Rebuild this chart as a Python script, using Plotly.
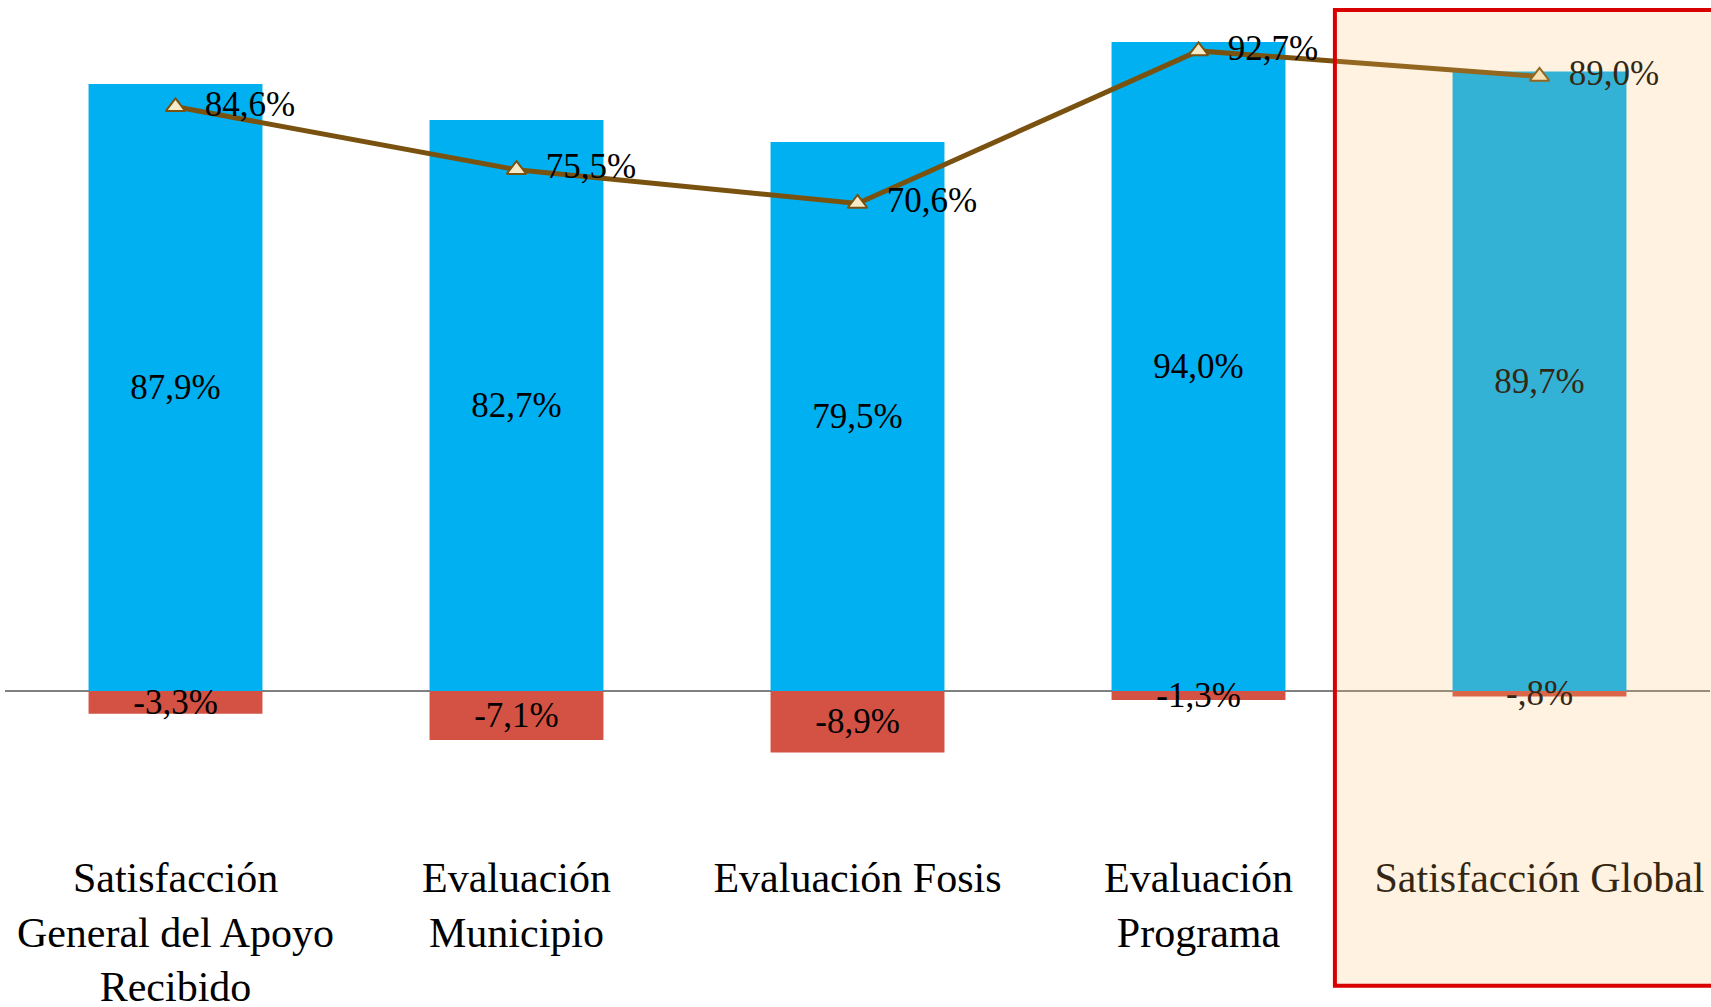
import plotly.graph_objects as go

BLUE  = "#00B0F0"
RED   = "#D35244"
BROWN = "#7A5210"
FONT  = "Liberation Serif, Times New Roman, serif"

categorias = [
    "Satisfacción<br>General del Apoyo<br>Recibido",
    "Evaluación<br>Municipio",
    "Evaluación Fosis",
    "Evaluación<br>Programa",
    "Satisfacción Global",
]
positivo = [87.9, 82.7, 79.5, 94.0, 89.7]
negativo = [-3.3, -7.1, -8.9, -1.3, -0.8]
neto = [84.6, 75.5, 70.6, 92.7, 89.0]


def pct(v):
    s = f"{v:.1f}".replace(".", ",")
    s = s.replace("-0,", "-,")
    if s.startswith("0,"):
        s = s[1:]
    return s + "%"


fig = go.Figure()
fig.add_trace(go.Bar(
    x=categorias, y=positivo, marker=dict(color=BLUE, line=dict(width=0)),
    text=[pct(v) for v in positivo], textposition="inside", insidetextanchor="middle",
    textangle=0, constraintext="none",
    textfont=dict(family=FONT, size=35, color="black"), width=0.51,
))
fig.add_trace(go.Bar(
    x=categorias, y=negativo, marker=dict(color=RED, line=dict(width=0)),
    text=[pct(v) for v in negativo], textposition="inside", insidetextanchor="middle",
    textangle=0, constraintext="none",
    textfont=dict(family=FONT, size=35, color="black"), width=0.51,
))
fig.add_trace(go.Scatter(
    x=categorias, y=neto, mode="lines+markers+text",
    line=dict(color=BROWN, width=5),
    marker=dict(symbol="triangle-up", size=17, color="#F6EBC8", line=dict(color=BROWN, width=2)),
    text=["\u00a0\u00a0" + pct(v) for v in neto], textposition="middle right",
    textfont=dict(family=FONT, size=35, color="black"),
    cliponaxis=False,
))

# recuadro destacado de "Satisfacción Global"
fig.add_shape(
    type="rect", xref="paper", yref="paper",
    x0=0.780, x1=1.003, y0=-0.1735, y1=0.988,
    fillcolor="rgba(255,191,105,0.2)", line=dict(color="#D90000", width=4),
    layer="above",
)

fig.update_layout(
    width=1711, height=1007,
    margin=dict(l=5, r=1, t=0, b=167),
    paper_bgcolor="white", plot_bgcolor="white",
    barmode="overlay", showlegend=False,
    font=dict(family=FONT, color="black"),
    xaxis=dict(showgrid=False, showline=False, ticks="", zeroline=False,
               automargin=False, ticklabelstandoff=9,
               tickfont=dict(family=FONT, size=42, color="black")),
    yaxis=dict(range=[-21.58, 100.07], visible=True, showgrid=False, showticklabels=False,
               automargin=False,
               zeroline=True, zerolinecolor="#808080", zerolinewidth=2, ticks=""),
)

fig.write_html("out.html", config={"displayModeBar": False},
               post_script="document.body.style.margin='0';")
